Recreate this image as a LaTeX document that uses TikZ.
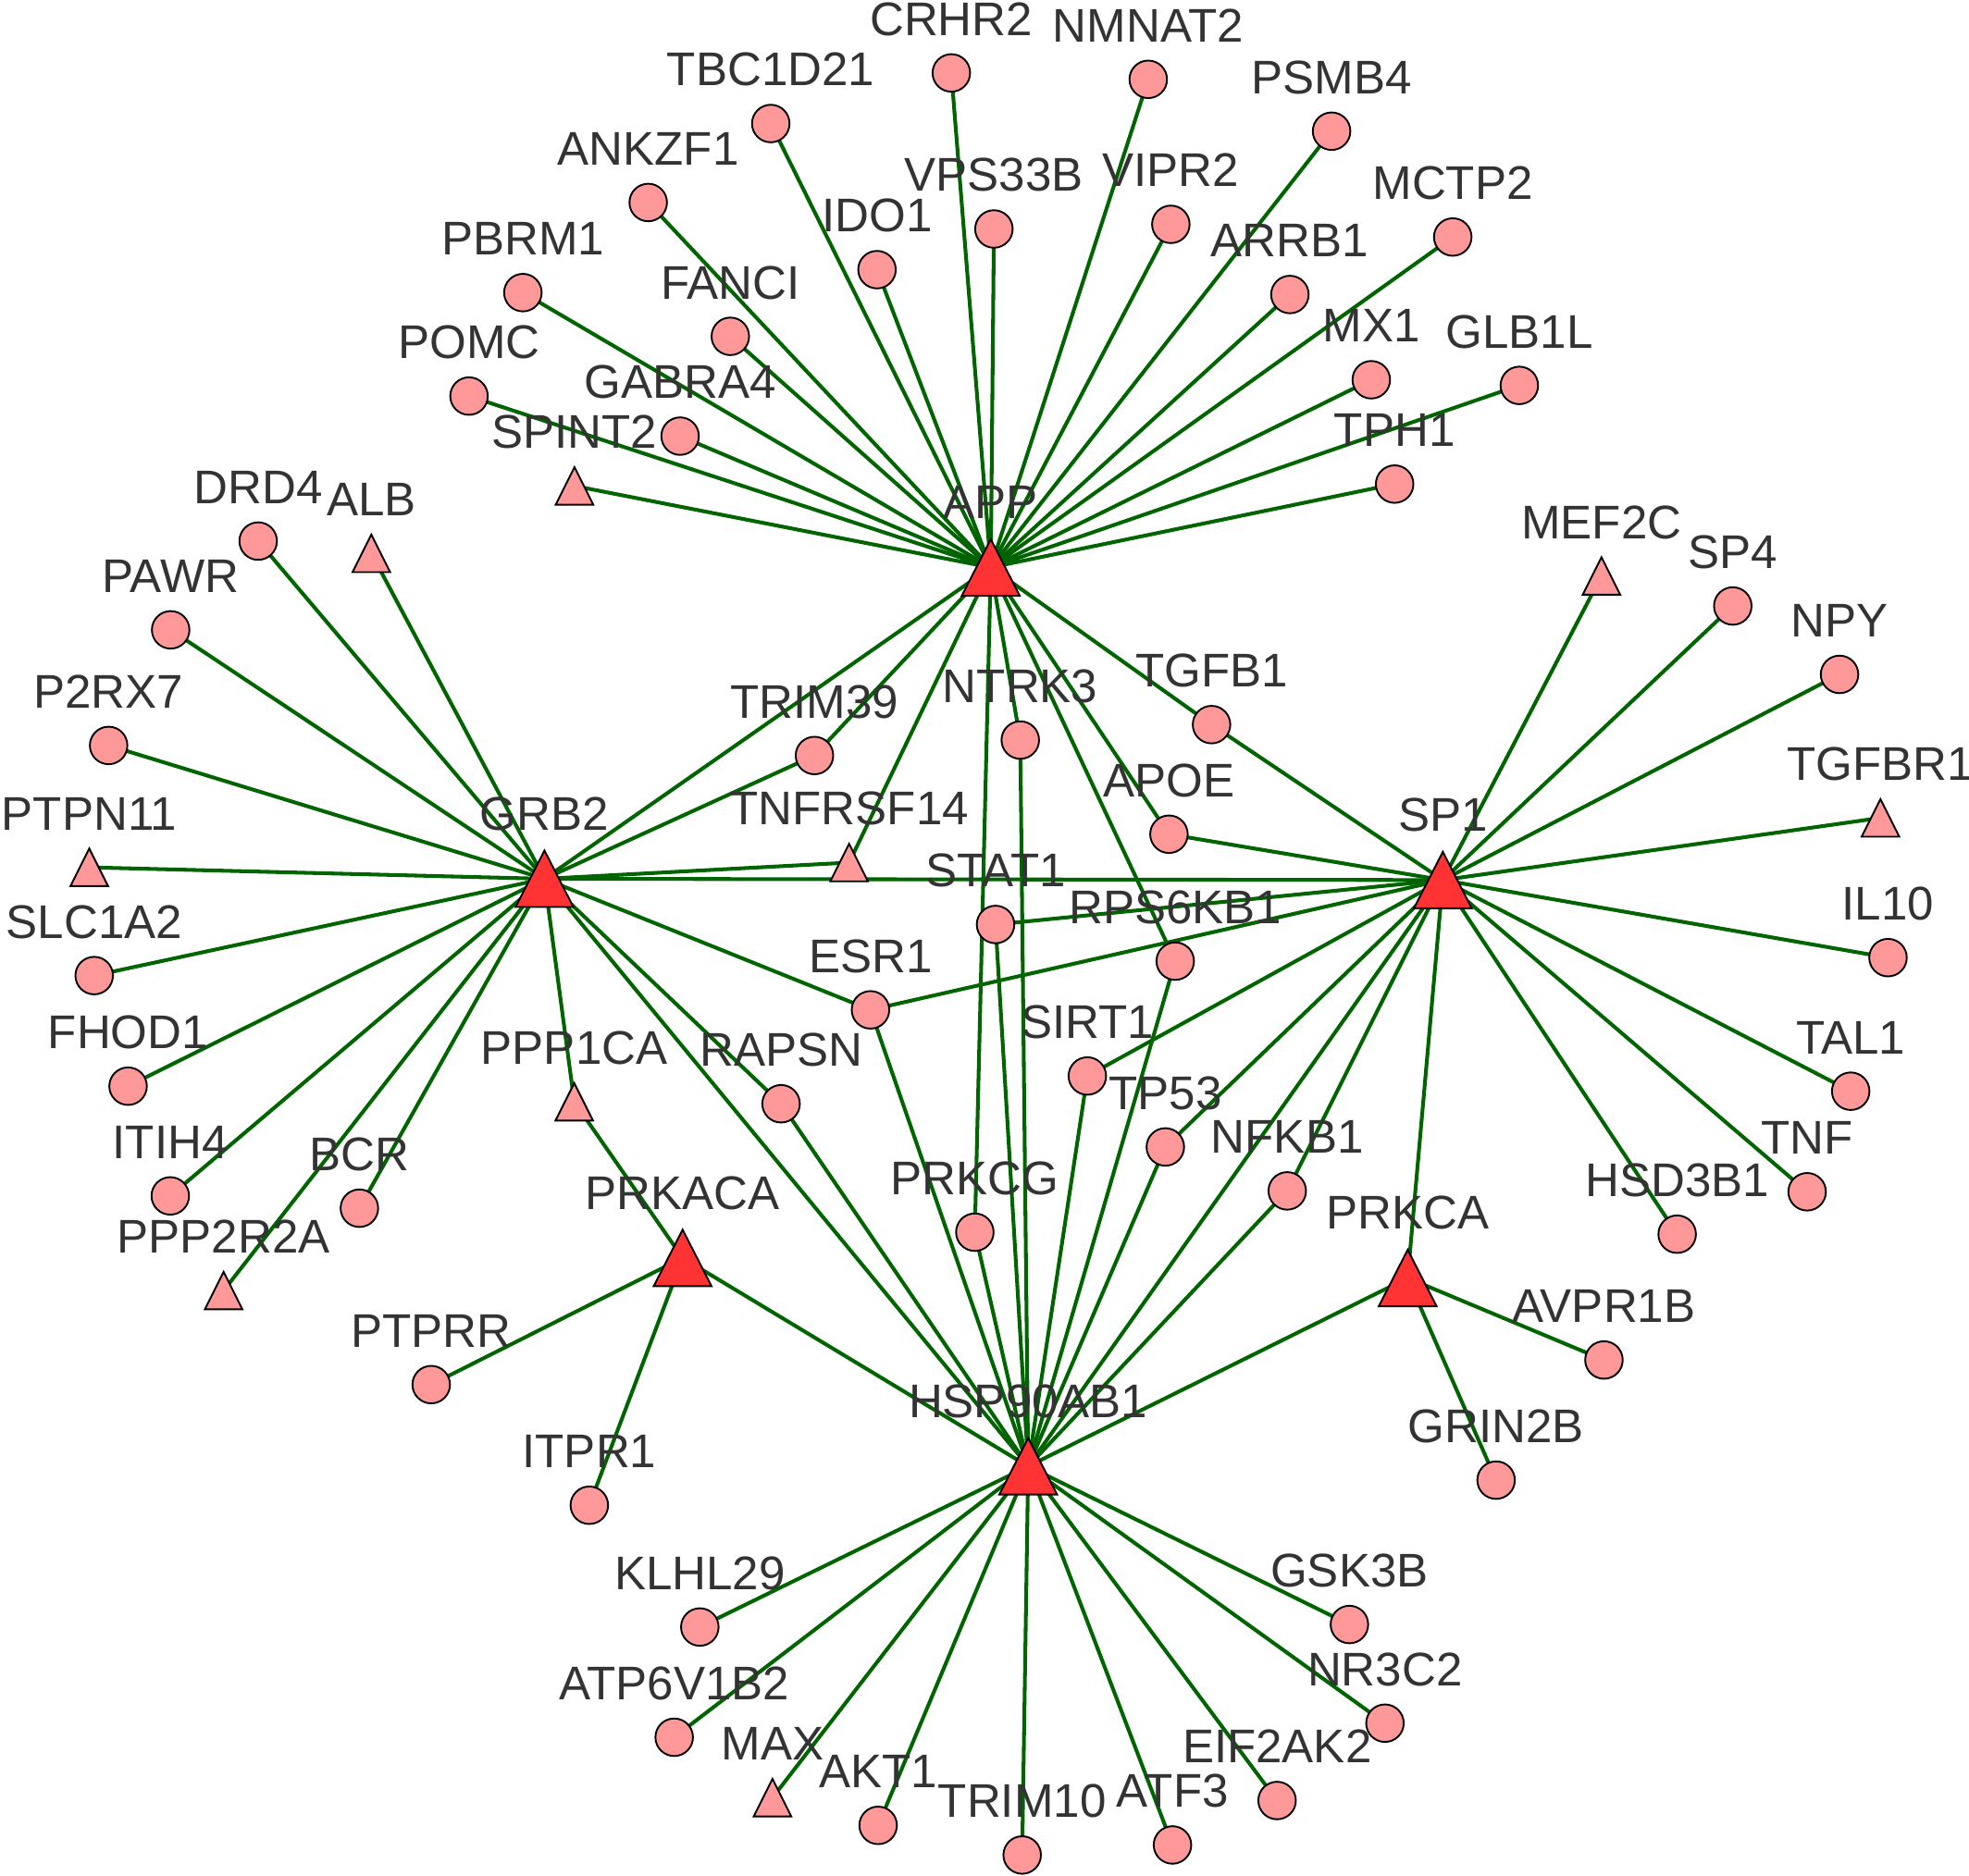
\documentclass[tikz,border=0pt]{standalone}
\usepackage{fontspec}
\setmainfont{Liberation Sans}
\usepackage{xcolor}
\usepackage{tikz}
\usetikzlibrary{backgrounds}
\definecolor{linkgreen}{RGB}{0,100,0}
\definecolor{genepink}{RGB}{255,153,153}
\definecolor{hubred}{RGB}{255,51,51}
\definecolor{labelgray}{RGB}{51,51,51}

\begin{document}
\begin{tikzpicture}[x=0.01cm,y=-0.01cm,
 every node/.style={font=\fontsize{10.7}{12}\selectfont},
 every label/.style={text=labelgray,inner sep=0pt,text height=7.7pt,text depth=0pt},
 gene/.style={circle,draw,line width=0.4pt,fill=genepink,minimum size=8.5pt,inner sep=0pt,
  label={[yshift=3.85pt]#1}},
 tri/.style={rectangle,inner sep=0pt,minimum width=10.4pt,minimum height=11.5pt,
  label={[yshift=2.35pt]#1},
  path picture={\draw[line width=0.4pt,fill=genepink]
   ([yshift=-1.5pt]path picture bounding box.north) --
   ([shift={(0.95pt,1.5pt)}]path picture bounding box.south west) --
   ([shift={(-0.95pt,1.5pt)}]path picture bounding box.south east) -- cycle;}},
 hub/.style={rectangle,inner sep=0pt,minimum width=15pt,minimum height=15.8pt,
  label={[yshift=2.75pt]#1},
  path picture={\draw[line width=0.4pt,fill=hubred]
   ([yshift=-1.5pt]path picture bounding box.north) --
   ([shift={(0.95pt,1.5pt)}]path picture bounding box.south west) --
   ([shift={(-0.95pt,1.5pt)}]path picture bounding box.south east) -- cycle;}},
 link/.style={draw=linkgreen,line width=0.85pt}]
\useasboundingbox (0,0) rectangle (1568,1494);
\node[hub=APP] (APP) at (789,452) {};
\node[hub=GRB2] (GRB2) at (433.6,700) {};
\node[hub=SP1] (SP1) at (1149,701) {};
\node[hub=PRKACA] (PRKACA) at (543.6,1002) {};
\node[hub=PRKCA] (PRKCA) at (1121,1018) {};
\node[hub=HSP90AB1] (HSP90AB1) at (818.8,1168) {};
\node[gene=CRHR2] (CRHR2) at (757.6,58.1) {};
\node[gene=NMNAT2] (NMNAT2) at (914.4,63.2) {};
\node[gene=TBC1D21] (TBC1D21) at (613.8,98.4) {};
\node[gene=PSMB4] (PSMB4) at (1060.4,104.5) {};
\node[gene=ANKZF1] (ANKZF1) at (516.2,161.3) {};
\node[gene=VPS33B] (VPS33B) at (791.5,182.4) {};
\node[gene=VIPR2] (VIPR2) at (932.4,178.7) {};
\node[gene=IDO1] (IDO1) at (698.4,214.8) {};
\node[gene=MCTP2] (MCTP2) at (1156.9,188.8) {};
\node[gene=PBRM1] (PBRM1) at (416.4,233.1) {};
\node[gene=ARRB1] (ARRB1) at (1027.2,234.6) {};
\node[gene=FANCI] (FANCI) at (581.6,267.9) {};
\node[gene=POMC] (POMC) at (373.5,315.5) {};
\node[gene=MX1] (MX1) at (1092,302.5) {};
\node[gene=GLB1L] (GLB1L) at (1209.9,307) {};
\node[gene=GABRA4] (GABRA4) at (541.6,347.4) {};
\node[tri=SPINT2] (SPINT2) at (457.5,387.1) {};
\node[gene=TPH1] (TPH1) at (1110.6,385.6) {};
\node[gene=DRD4] (DRD4) at (205.6,431) {};
\node[tri=ALB] (ALB) at (295.7,440.8) {};
\node[gene=PAWR] (PAWR) at (135.9,501.7) {};
\node[gene=P2RX7] (P2RX7) at (86.5,593.8) {};
\node[tri=PTPN11] (PTPN11) at (71.1,690.9) {};
\node[gene=SLC1A2] (SLC1A2) at (75,777.1) {};
\node[gene=FHOD1] (FHOD1) at (102,865.2) {};
\node[gene=ITIH4] (ITIH4) at (135.6,952.6) {};
\node[gene=BCR] (BCR) at (286.2,962.4) {};
\node[tri=PPP2R2A] (PPP2R2A) at (178.1,1028) {};
\node[tri=PPP1CA] (PPP1CA) at (457.3,877.7) {};
\node[gene=PTPRR] (PTPRR) at (343.4,1102.9) {};
\node[gene=ITPR1] (ITPR1) at (469.3,1199) {};
\node[gene=TRIM39] (TRIM39) at (648.6,601.8) {};
\node[tri=TNFRSF14] (TNFRSF14) at (676.2,687.1) {};
\node[gene=NTRK3] (NTRK3) at (812.5,589.5) {};
\node[gene=TGFB1] (TGFB1) at (964.8,577.2) {};
\node[gene=APOE] (APOE) at (930.9,664.5) {};
\node[gene=STAT1] (STAT1) at (792.8,736.4) {};
\node[gene=RPS6KB1] (RPS6KB1) at (935.9,765.6) {};
\node[gene=ESR1] (ESR1) at (693.2,804.4) {};
\node[gene=SIRT1] (SIRT1) at (865.9,857.1) {};
\node[gene=RAPSN] (RAPSN) at (622,879.2) {};
\node[gene=TP53] (TP53) at (928,913.6) {};
\node[gene=NFKB1] (NFKB1) at (1025.1,948.6) {};
\node[gene=PRKCG] (PRKCG) at (776.3,981.5) {};
\node[tri=MEF2C] (MEF2C) at (1275.3,458.8) {};
\node[gene=SP4] (SP4) at (1379.9,482.7) {};
\node[gene=NPY] (NPY) at (1464.9,537.2) {};
\node[tri=TGFBR1] (TGFBR1) at (1497.5,651.5) {};
\node[gene=IL10] (IL10) at (1503.5,762.8) {};
\node[gene=TAL1] (TAL1) at (1473.8,869.2) {};
\node[gene=TNF] (TNF) at (1439.1,949.3) {};
\node[gene=HSD3B1] (HSD3B1) at (1335.6,983.1) {};
\node[gene=AVPR1B] (AVPR1B) at (1277.3,1083.3) {};
\node[gene=GRIN2B] (GRIN2B) at (1191.4,1179) {};
\node[gene=KLHL29] (KLHL29) at (557.3,1296) {};
\node[gene=ATP6V1B2] (ATP6V1B2) at (536.9,1383.8) {};
\node[tri=MAX] (MAX) at (615.2,1431.9) {};
\node[gene=AKT1] (AKT1) at (699.3,1454) {};
\node[gene=TRIM10] (TRIM10) at (814,1477.6) {};
\node[gene=ATF3] (ATF3) at (933.7,1469.6) {};
\node[gene=EIF2AK2] (EIF2AK2) at (1017,1434.2) {};
\node[gene=NR3C2] (NR3C2) at (1102.9,1372.6) {};
\node[gene=GSK3B] (GSK3B) at (1074.6,1294) {};
\begin{pgfonlayer}{background}
\draw[link] (APP.center) -- (CRHR2.center);
\draw[link] (APP.center) -- (NMNAT2.center);
\draw[link] (APP.center) -- (TBC1D21.center);
\draw[link] (APP.center) -- (PSMB4.center);
\draw[link] (APP.center) -- (ANKZF1.center);
\draw[link] (APP.center) -- (VPS33B.center);
\draw[link] (APP.center) -- (VIPR2.center);
\draw[link] (APP.center) -- (IDO1.center);
\draw[link] (APP.center) -- (MCTP2.center);
\draw[link] (APP.center) -- (PBRM1.center);
\draw[link] (APP.center) -- (FANCI.center);
\draw[link] (APP.center) -- (ARRB1.center);
\draw[link] (APP.center) -- (POMC.center);
\draw[link] (APP.center) -- (GABRA4.center);
\draw[link] (APP.center) -- (MX1.center);
\draw[link] (APP.center) -- (GLB1L.center);
\draw[link] (APP.center) -- (SPINT2.center);
\draw[link] (APP.center) -- (TPH1.center);
\draw[link] (APP.center) -- (GRB2.center);
\draw[link] (APP.center) -- (TRIM39.center);
\draw[link] (APP.center) -- (TNFRSF14.center);
\draw[link] (APP.center) -- (PRKCG.center);
\draw[link] (APP.center) -- (NTRK3.center);
\draw[link] (APP.center) -- (RPS6KB1.center);
\draw[link] (APP.center) -- (APOE.center);
\draw[link] (APP.center) -- (TGFB1.center);
\draw[link] (GRB2.center) -- (DRD4.center);
\draw[link] (GRB2.center) -- (ALB.center);
\draw[link] (GRB2.center) -- (PAWR.center);
\draw[link] (GRB2.center) -- (P2RX7.center);
\draw[link] (GRB2.center) -- (PTPN11.center);
\draw[link] (GRB2.center) -- (SLC1A2.center);
\draw[link] (GRB2.center) -- (FHOD1.center);
\draw[link] (GRB2.center) -- (ITIH4.center);
\draw[link] (GRB2.center) -- (BCR.center);
\draw[link] (GRB2.center) -- (PPP2R2A.center);
\draw[link] (GRB2.center) -- (PPP1CA.center);
\draw[link] (GRB2.center) -- (TRIM39.center);
\draw[link] (GRB2.center) -- (TNFRSF14.center);
\draw[link] (GRB2.center) -- (SP1.center);
\draw[link] (GRB2.center) -- (ESR1.center);
\draw[link] (GRB2.center) -- (RAPSN.center);
\draw[link] (GRB2.center) -- (HSP90AB1.center);
\draw[link] (SP1.center) -- (MEF2C.center);
\draw[link] (SP1.center) -- (SP4.center);
\draw[link] (SP1.center) -- (NPY.center);
\draw[link] (SP1.center) -- (TGFBR1.center);
\draw[link] (SP1.center) -- (IL10.center);
\draw[link] (SP1.center) -- (TAL1.center);
\draw[link] (SP1.center) -- (TNF.center);
\draw[link] (SP1.center) -- (HSD3B1.center);
\draw[link] (SP1.center) -- (PRKCA.center);
\draw[link] (SP1.center) -- (APOE.center);
\draw[link] (SP1.center) -- (TGFB1.center);
\draw[link] (SP1.center) -- (STAT1.center);
\draw[link] (SP1.center) -- (ESR1.center);
\draw[link] (SP1.center) -- (SIRT1.center);
\draw[link] (SP1.center) -- (TP53.center);
\draw[link] (SP1.center) -- (NFKB1.center);
\draw[link] (SP1.center) -- (HSP90AB1.center);
\draw[link] (PRKCA.center) -- (AVPR1B.center);
\draw[link] (PRKCA.center) -- (GRIN2B.center);
\draw[link] (PRKCA.center) -- (HSP90AB1.center);
\draw[link] (PRKACA.center) -- (PPP1CA.center);
\draw[link] (PRKACA.center) -- (PTPRR.center);
\draw[link] (PRKACA.center) -- (ITPR1.center);
\draw[link] (PRKACA.center) -- (HSP90AB1.center);
\draw[link] (HSP90AB1.center) -- (KLHL29.center);
\draw[link] (HSP90AB1.center) -- (ATP6V1B2.center);
\draw[link] (HSP90AB1.center) -- (MAX.center);
\draw[link] (HSP90AB1.center) -- (AKT1.center);
\draw[link] (HSP90AB1.center) -- (TRIM10.center);
\draw[link] (HSP90AB1.center) -- (ATF3.center);
\draw[link] (HSP90AB1.center) -- (EIF2AK2.center);
\draw[link] (HSP90AB1.center) -- (NR3C2.center);
\draw[link] (HSP90AB1.center) -- (GSK3B.center);
\draw[link] (HSP90AB1.center) -- (PRKCG.center);
\draw[link] (HSP90AB1.center) -- (NTRK3.center);
\draw[link] (HSP90AB1.center) -- (STAT1.center);
\draw[link] (HSP90AB1.center) -- (ESR1.center);
\draw[link] (HSP90AB1.center) -- (RAPSN.center);
\draw[link] (HSP90AB1.center) -- (SIRT1.center);
\draw[link] (HSP90AB1.center) -- (RPS6KB1.center);
\draw[link] (HSP90AB1.center) -- (TP53.center);
\draw[link] (HSP90AB1.center) -- (NFKB1.center);
\end{pgfonlayer}
\end{tikzpicture}
\end{document}
